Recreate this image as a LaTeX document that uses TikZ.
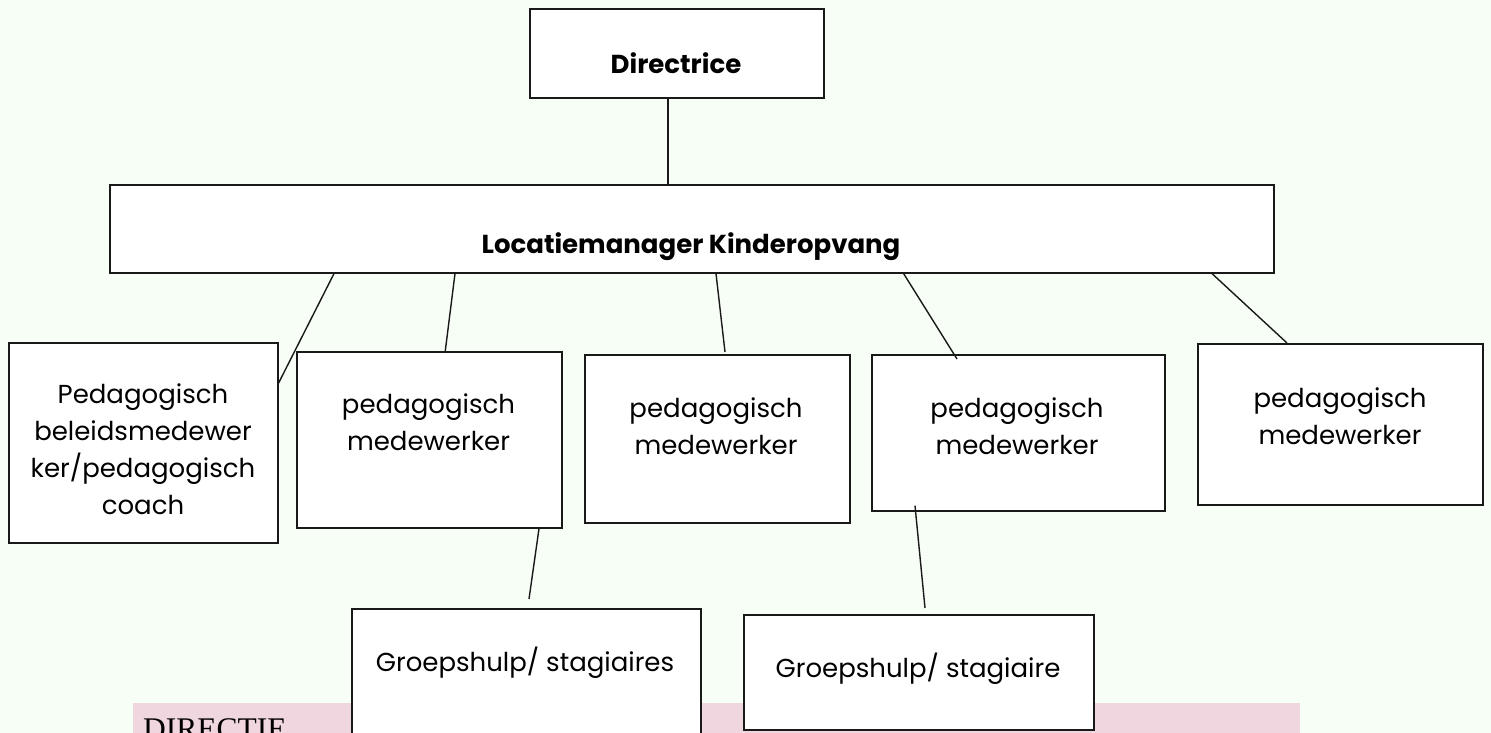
\documentclass[tikz,border=0pt]{standalone}
\usepackage{fontspec}
\setmainfont{Poppins}
\newfontfamily\serifdir{Liberation Serif}
\definecolor{bgg}{RGB}{247,254,246}
\definecolor{pinkband}{RGB}{240,214,223}
\definecolor{edgec}{RGB}{25,25,25}
\begin{document}
\begin{tikzpicture}[x=1pt,y=-1pt,
  box/.style={draw=edgec, line width=1.6pt, fill=white, anchor=north west, inner sep=0pt},
  txt/.style={inner sep=0pt, align=center, font=\fontsize{26}{37}\selectfont},
  btxt/.style={inner sep=0pt, align=center, font=\fontsize{26}{37}\selectfont\bfseries},
  link/.style={draw=edgec, line width=1.4pt}]
\useasboundingbox (0,0) rectangle (1491,733);
\clip (0,0) rectangle (1491,733);
\fill[bgg] (0,0) rectangle (1491,733);
% pink band
\node[fill=pinkband, anchor=north west, inner sep=0pt, minimum width=1167pt, minimum height=40pt] (band) at (133,703) {};
\node[anchor=base west, inner sep=0pt, font=\serifdir\fontsize{31.5}{36}\selectfont] (bandtxt) at (143,739) {DIRECTIE};
% boxes
\node[box, minimum width=294pt, minimum height=89pt] (dir) at (529,8) {};
\node[box, minimum width=1164pt, minimum height=88pt] (loc) at (109,184) {};
\node[box, minimum width=269pt, minimum height=200pt] (b1) at (8,342) {};
\node[box, minimum width=265pt, minimum height=176pt] (b2) at (296,351) {};
\node[box, minimum width=265pt, minimum height=168pt] (b3) at (584,354) {};
\node[box, minimum width=293pt, minimum height=156pt] (b4) at (871,354) {};
\node[box, minimum width=285pt, minimum height=161pt] (b5) at (1197,343) {};
\node[box, minimum width=349pt, minimum height=140pt] (g1) at (351,608) {};
\node[box, minimum width=350pt, minimum height=115pt] (g2) at (743,614) {};
% texts
\node[btxt] (tdir) at (676,63.5) {Directrice};
\node[btxt] (tloc) at (691,247) {Locatiemanager Kinderopvang};
\node[txt] (tb1) at (143,449.5) {Pedagogisch\\beleidsmedewer\\ker/pedagogisch\\coach};
\node[txt] (tb2) at (428.5,422.5) {pedagogisch\\medewerker};
\node[txt] (tb3) at (716,426) {pedagogisch\\medewerker};
\node[txt] (tb4) at (1017,426) {pedagogisch\\medewerker};
\node[txt] (tb5) at (1340,416) {pedagogisch\\medewerker};
\node[txt] (tg1) at (525,663) {Groepshulp/ stagiaires};
\node[txt] (tg2) at (918,669) {Groepshulp/ stagiaire};
% connectors
\draw[link] ([xshift=-9pt]dir.south) -- ([xshift=-24pt]loc.north);
\draw[link] ([xshift=225pt]loc.south west) -- ([yshift=-41pt]b1.north east);
\draw[link] ([xshift=346pt]loc.south west) -- ([xshift=149pt,yshift=-2pt]b2.north west);
\draw[link] ([xshift=607pt]loc.south west) -- ([xshift=141pt,yshift=2pt]b3.north west);
\draw[link] ([xshift=794pt,yshift=1pt]loc.south west) -- ([xshift=86pt,yshift=-5pt]b4.north west);
\draw[link] ([xshift=1103pt]loc.south west) -- ([xshift=90pt]b5.north west);
\draw[link] ([xshift=243pt]b2.south west) -- ([xshift=178pt,yshift=9pt]g1.north west);
\draw[link] ([xshift=44pt,yshift=6pt]b4.south west) -- ([xshift=182pt,yshift=6pt]g2.north west);
\end{tikzpicture}
\end{document}
